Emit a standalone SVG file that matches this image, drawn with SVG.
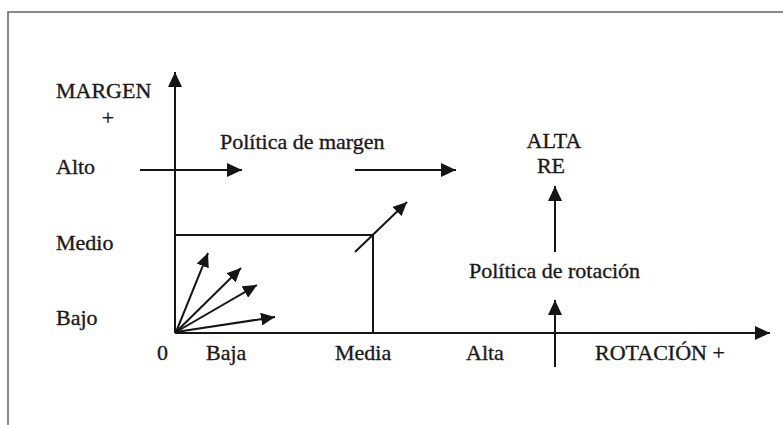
<svg xmlns="http://www.w3.org/2000/svg" width="783" height="425" viewBox="0 0 783 425">
<style>
text{font-family:"Liberation Serif","Times New Roman",serif;font-size:22px;fill:#1a1a1a;stroke:#1a1a1a;stroke-width:0.35}
.ln{stroke:#151515;stroke-width:2;fill:none}
.fr{stroke:#666;stroke-width:1.5;fill:none}
</style>
<defs>
<marker id="ah" viewBox="0 0 15 14" refX="15" refY="7" markerWidth="15" markerHeight="14" markerUnits="userSpaceOnUse" orient="auto">
<path d="M0,0 L15,7 L0,14 z" fill="#151515"/>
</marker>
<marker id="ahs" viewBox="0 0 14 13" refX="14" refY="6.5" markerWidth="14" markerHeight="13" markerUnits="userSpaceOnUse" orient="auto">
<path d="M0,0 L14,6.5 L0,13 z" fill="#151515"/>
</marker>
</defs>
<rect width="783" height="425" fill="#fff"/>
<g id="frame">
<path class="fr" d="M8,425 V12 H783"/>
</g>
<g id="connectors">
<line id="y-axis" class="ln" x1="175" y1="333" x2="175" y2="72" marker-end="url(#ah)"/>
<line id="x-axis" class="ln" x1="175" y1="333" x2="770" y2="333" marker-end="url(#ah)"/>
<path id="box" class="ln" d="M175,235 H373 V333"/>
<line class="ln" x1="140" y1="170" x2="242" y2="170" marker-end="url(#ah)"/>
<line class="ln" x1="355" y1="170" x2="456" y2="170" marker-end="url(#ah)"/>
<line class="ln" x1="355" y1="252" x2="407" y2="202" marker-end="url(#ahs)"/>
<line class="ln" x1="176" y1="332" x2="208" y2="253" marker-end="url(#ahs)"/>
<line class="ln" x1="176" y1="332" x2="241" y2="268" marker-end="url(#ahs)"/>
<line class="ln" x1="176" y1="332" x2="257" y2="285" marker-end="url(#ahs)"/>
<line class="ln" x1="176" y1="332" x2="275" y2="317" marker-end="url(#ahs)"/>
<line class="ln" x1="555" y1="252" x2="555" y2="186" marker-end="url(#ah)"/>
<line class="ln" x1="555" y1="367" x2="555" y2="300" marker-end="url(#ah)"/>
</g>
<g id="y-labels">
<text x="56" y="98">MARGEN</text>
<text x="108" y="125" text-anchor="middle">+</text>
<text x="56" y="174">Alto</text>
<text x="56" y="250">Medio</text>
<text x="56" y="325">Bajo</text>
</g>
<g id="x-labels">
<text x="157" y="360">0</text>
<text x="206" y="360">Baja</text>
<text x="335" y="360">Media</text>
<text x="466" y="360">Alta</text>
<text x="595" y="360">ROTACIÓN +</text>
</g>
<g id="policy-margin">
<text x="220" y="149">Política de margen</text>
</g>
<g id="alta-re">
<text x="554" y="148" text-anchor="middle">ALTA</text>
<text x="551" y="173" text-anchor="middle">RE</text>
</g>
<g id="policy-rotation">
<text x="469" y="278">Política de rotación</text>
</g>
</svg>
